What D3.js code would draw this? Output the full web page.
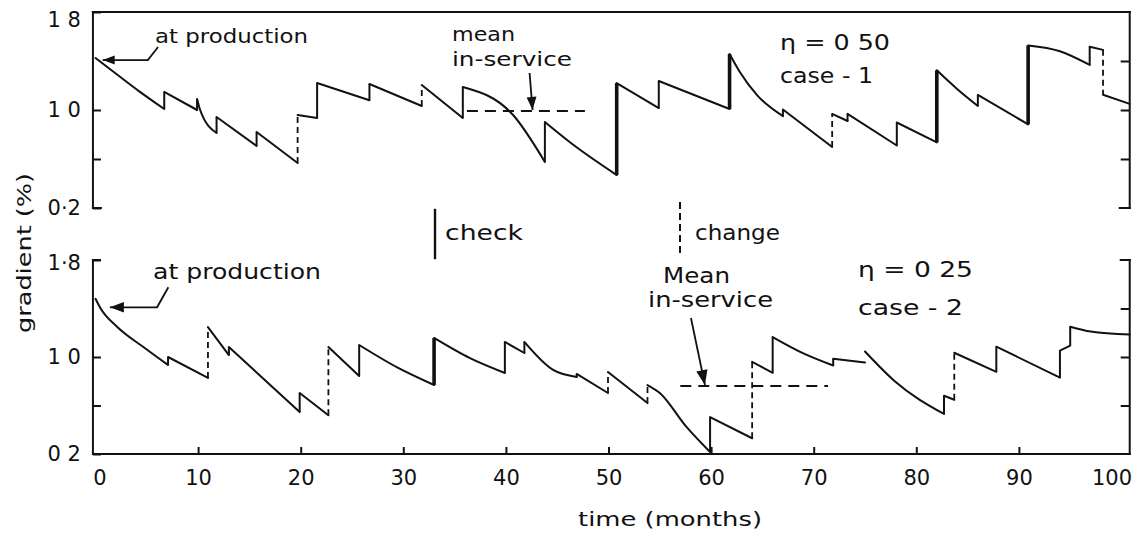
<!DOCTYPE html>
<html>
<head>
<meta charset="utf-8">
<script src="https://cdn.jsdelivr.net/npm/d3@7"></script>
<style>
  html, body { margin: 0; padding: 0; background: #fff; }
  svg { display: block; }
  text { font-family: "DejaVu Sans", "Liberation Sans", sans-serif; fill: #111; }
</style>
</head>
<body>
<svg id="chart" width="1138" height="536"></svg>
<script>
// ---------------- DATA ----------------
const xTickValues = [0, 10, 20, 30, 40, 50, 60, 70, 80, 90, 100];
const xTickLabels = ["0", "10", "20", "30", "40", "50", "60", "70", "80", "90", "100"];
const yTickValues = [1.8, 1.0, 0.6, 0.2];
const topYTickLabels = ["1 8", "1 0", "", "0·2"];
const bottomYTickLabels = ["1·8", "1 0", "", "0 2"];
const rightTickValues = [1.4, 1.0, 0.6];

// case 1 (eta = 0.50): continuous runs of [month, gradient]; between runs a vertical jump
const case1Runs = [
  [[0, 1.424], [2.1, 1.29], [4.3, 1.15], [6.7, 1.008]],
  [[6.7, 1.147], [9.9, 1.0]],
  [[9.9, 1.09], [10.2, 1.0], [11.8, 0.812]],
  [[11.8, 0.943], [15.7, 0.706]],
  [[15.7, 0.82], [19.7, 0.567]],
  [[19.7, 0.959], [21.6, 0.935]],
  [[21.6, 1.22], [26.7, 1.08]],
  [[26.7, 1.212], [31.8, 1.033]],
  [[31.8, 1.204], [35.8, 0.935]],
  [[35.8, 1.188], [40.7, 0.959], [43.8, 0.576]],
  [[43.8, 0.902], [46.5, 0.72], [50.8, 0.469]],
  [[50.8, 1.22], [54.9, 1.016]],
  [[54.9, 1.237], [61.8, 1.008]],
  [[61.8, 1.457], [62.8, 1.31], [64.5, 1.12], [67.0, 0.95]],
  [[67.0, 1.004], [71.8, 0.698]],
  [[71.8, 0.968], [73.3, 0.91]],
  [[73.3, 0.968], [78.1, 0.71]],
  [[78.1, 0.898], [82.0, 0.736]],
  [[82.0, 1.324], [84.0, 1.17], [86.0, 1.033]],
  [[86.0, 1.123], [90.9, 0.883]],
  [[90.9, 1.527], [94.0, 1.48], [96.9, 1.368]],
  [[96.9, 1.517], [98.2, 1.491]],
  [[98.2, 1.125], [100.8, 1.05]]
];
const case1Jumps = ["check", "check", "check", "check", "change", "check", "check", "change", "check", "check",
  "thick", "check", "thick", "check", "change", "check", "check", "thick", "check", "thick", "check", "change"];
const case1Mean = { value: 0.992, from: 36.2, to: 47.7, arrowAt: 42.6 };

// case 2 (eta = 0.25)
const case2Runs = [
  [[0, 1.48], [0.5, 1.40], [2.1, 1.25], [4.7, 1.08], [7.07, 0.934]],
  [[7.07, 1.0], [10.96, 0.827]],
  [[10.96, 1.247], [13.0, 1.016]],
  [[13.0, 1.082], [19.9, 0.546]],
  [[19.9, 0.703], [22.7, 0.52]],
  [[22.7, 1.082], [25.7, 0.843]],
  [[25.7, 1.099], [29.5, 0.91], [33.0, 0.769]],
  [[33.0, 1.157], [36.5, 0.99], [39.9, 0.868]],
  [[39.9, 1.124], [41.8, 1.033]],
  [[41.8, 1.124], [44.6, 0.893], [46.9, 0.835]],
  [[46.9, 0.86], [49.95, 0.703]],
  [[49.95, 0.876], [53.8, 0.62]],
  [[53.8, 0.769], [55.0, 0.703], [57.6, 0.423], [59.9, 0.216]],
  [[59.9, 0.505], [64.0, 0.33]],
  [[64.0, 0.96], [66.0, 0.87]],
  [[66.0, 1.165], [69.0, 1.03], [71.9, 0.93]],
  [[71.9, 0.985], [75.0, 0.955]],
  [[75.0, 1.045], [77.9, 0.80], [82.7, 0.53]],
  [[82.7, 0.68], [83.7, 0.647]],
  [[83.7, 1.035], [87.8, 0.878]],
  [[87.8, 1.085], [94.0, 0.83]],
  [[94.0, 1.053], [95.0, 1.094]],
  [[95.0, 1.25], [97.0, 1.21], [100.8, 1.185]]
];
const case2Jumps = ["check", "change", "check", "check", "change", "check", "thick", "check", "check", "check",
  "change", "change", "check", "change", "check", "check", "none", "check", "change", "check", "check", "check"];
const case2Mean = { value: 0.761, from: 57.0, to: 71.4, arrowAt: 59.4 };

// ---------------- LAYOUT ----------------
const svg = d3.select("#chart");
const ink = "#111";
const x = d3.scaleLinear().domain([0, 100]).range([95.5, 1121.5]);
const yTop = d3.scaleLinear().domain([0.2, 1.8]).range([208, 12]);
const yBot = d3.scaleLinear().domain([0.2, 1.8]).range([454, 260]);
const xL = x(-0.25), xR = x(100.8);

const g = svg.append("g");

function seg(x1, y1, x2, y2, w = 2, dash = null) {
  const l = g.append("line").attr("x1", x1).attr("y1", y1).attr("x2", x2).attr("y2", y2)
    .attr("stroke", ink).attr("stroke-width", w).attr("stroke-linecap", "square");
  if (dash) l.attr("stroke-dasharray", dash).attr("stroke-linecap", "butt");
  return l;
}

// ----- frames -----
// top panel
seg(xL, yTop(1.8), xR, yTop(1.8), 2.2);
seg(xL, yTop(1.8), xL, yTop(0.2), 2);
seg(xL, yTop(0.2), xL + 8, yTop(0.2), 2);
seg(xR, yTop(1.8), xR, yTop(0.2), 2);
seg(xR - 10, yTop(0.2), xR, yTop(0.2), 2);
// bottom panel
seg(xL, yBot(1.8), xL, yBot(0.2), 2);
seg(xL, yBot(1.8), xL + 7, yBot(1.8), 2);
seg(xL, yBot(0.2), xR, yBot(0.2), 2);
seg(xR, yBot(1.8), xR, yBot(0.2), 2);
seg(xR - 9, yBot(1.8), xR, yBot(1.8), 2);

// ----- axes (ticks + labels) -----
function leftAxis(scale, labels, firstDy) {
  const ax = d3.axisLeft(scale).tickValues(yTickValues)
    .tickFormat((d, i) => labels[i]).tickSizeInner(-8).tickSizeOuter(0).tickPadding(12);
  const a = svg.append("g").attr("transform", `translate(${xL},0)`).call(ax);
  a.select(".domain").remove();
  a.selectAll(".tick line").attr("stroke", ink).attr("stroke-width", 2);
  a.selectAll(".tick text").style("font-size", "21px").attr("fill", ink)
    .style("font-family", "'DejaVu Sans', sans-serif");
  a.selectAll(".tick text").filter((d, i) => i === 0).attr("dy", firstDy);
  return a;
}
leftAxis(yTop, topYTickLabels, "0.7em");
leftAxis(yBot, bottomYTickLabels, "0.45em");

function rightAxis(scale) {
  const ax = d3.axisRight(scale).tickValues(rightTickValues).tickFormat("")
    .tickSizeInner(-9).tickSizeOuter(0);
  const a = svg.append("g").attr("transform", `translate(${xR},0)`).call(ax);
  a.select(".domain").remove();
  a.selectAll(".tick line").attr("stroke", ink).attr("stroke-width", 2);
}
rightAxis(yTop);
rightAxis(yBot);

const xAx = d3.axisBottom(x).tickValues(xTickValues).tickFormat((d, i) => xTickLabels[i])
  .tickSizeInner(-7).tickSizeOuter(0).tickPadding(16);
const xa = svg.append("g").attr("transform", `translate(0,${yBot(0.2)})`).call(xAx);
xa.select(".domain").remove();
xa.selectAll(".tick line").attr("stroke", ink).attr("stroke-width", 2)
  .filter(d => d === 0 || d === 100).remove();
xa.selectAll(".tick text").style("font-size", "21px").attr("fill", ink)
  .style("font-family", "'DejaVu Sans', sans-serif");
xa.selectAll(".tick text").filter(d => d === 0).attr("dx", 4);
xa.selectAll(".tick text").filter(d => d === 100).attr("dx", -10);

// ----- curves -----
const line = d3.line().curve(d3.curveMonotoneX);
function drawCase(runs, jumps, y) {
  const cg = svg.append("g");
  runs.forEach(run => {
    cg.append("path").attr("d", line(run.map(p => [x(p[0]), y(p[1])])))
      .attr("fill", "none").attr("stroke", ink).attr("stroke-width", 2)
      .attr("stroke-linejoin", "round").attr("stroke-linecap", "round");
  });
  jumps.forEach((type, i) => {
    if (type === "none") return;
    const prev = runs[i][runs[i].length - 1];
    const next = runs[i + 1][0];
    const l = cg.append("line")
      .attr("x1", x(next[0])).attr("x2", x(next[0]))
      .attr("y1", y(prev[1])).attr("y2", y(next[1]))
      .attr("stroke", ink);
    if (type === "change") l.attr("stroke-width", 1.8).attr("stroke-dasharray", "6,4");
    else if (type === "thick") l.attr("stroke-width", 3.6);
    else l.attr("stroke-width", 2);
  });
}
drawCase(case1Runs, case1Jumps, yTop);
drawCase(case2Runs, case2Jumps, yBot);

// ----- mean in-service lines -----
function meanLine(m, y) {
  seg(x(m.from), y(m.value), x(m.to), y(m.value), 2, "11,7");
}
meanLine(case1Mean, yTop);
meanLine(case2Mean, yBot);

// ----- arrows -----
function arrow(x1, y1, x2, y2, size = 11) {
  g.append("line").attr("x1", x1).attr("y1", y1).attr("x2", x2).attr("y2", y2)
    .attr("stroke", ink).attr("stroke-width", 1.8);
  const ang = Math.atan2(y2 - y1, x2 - x1);
  const w = size * 0.38;
  const bx = x2 - size * Math.cos(ang), by = y2 - size * Math.sin(ang);
  const px = -Math.sin(ang) * w, py = Math.cos(ang) * w;
  g.append("path").attr("d", `M${x2},${y2}L${bx + px},${by + py}L${bx - px},${by - py}Z`)
    .attr("fill", ink);
}
// at production (top)
const tp = yTop(case1Runs[0][0][1]) + 2;
g.append("path").attr("d", `M${x(0.5) + 10},${tp}L${x(5.1)},${tp}L${x(6.1)},${tp - 13}`)
  .attr("fill", "none").attr("stroke", ink).attr("stroke-width", 1.8);
arrow(x(1.5), tp, x(0.7), tp, 12);
// at production (bottom)
const bp = yBot(1.41);
g.append("path").attr("d", `M${x(1.8)},${bp}L${x(6)},${bp}L${x(7.1)},${bp - 20}`)
  .attr("fill", "none").attr("stroke", ink).attr("stroke-width", 1.8);
arrow(x(2.6), bp, x(1.4), bp, 14);
// mean in-service arrows
arrow(x(case1Mean.arrowAt) - 3, 73, x(case1Mean.arrowAt), yTop(case1Mean.value) - 1, 13);
arrow(x(case2Mean.arrowAt) - 14, 318, x(case2Mean.arrowAt), yBot(case2Mean.value) - 1, 15);

// ----- legend marks -----
seg(435, 210, 435, 258, 2.4);
seg(680, 202, 680, 254, 2, "7,4");

// ----- texts -----
function txt(s, xx, yy, size, len) {
  const t = svg.append("text").attr("x", xx).attr("y", yy).style("font-size", size + "px").text(s);
  if (len) t.attr("textLength", len).attr("lengthAdjust", "spacingAndGlyphs");
  return t;
}
txt("at production", 155, 43, 20, 153);
txt("at production", 153, 279, 21, 168);
txt("mean", 452, 41, 20, 63);
txt("in-service", 452, 66, 20, 120);
txt("Mean", 663, 283, 21, 67);
txt("in-service", 648, 307, 21, 125);
txt("check", 445, 240, 21, 78);
txt("change", 695, 240, 21, 85);
txt("η = 0 50", 780, 50, 21, 110);
txt("case - 1", 780, 83, 21, 93);
txt("η = 0 25", 858, 277, 21, 115);
txt("case - 2", 858, 315, 21, 105);
txt("time (months)", 578, 526, 20, 184);
svg.append("text").attr("transform", "translate(31,253) rotate(-90)")
  .attr("text-anchor", "middle").style("font-size", "20px")
  .attr("textLength", 160).attr("lengthAdjust", "spacingAndGlyphs").text("gradient (%)");
</script>
</body>
</html>
